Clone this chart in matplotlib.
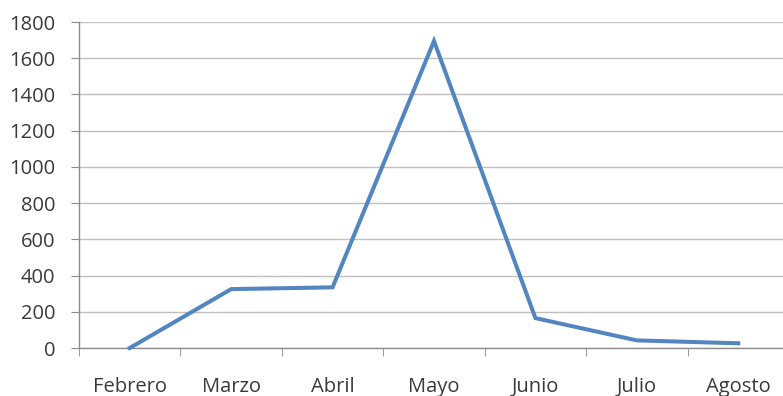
import matplotlib
matplotlib.use("Agg")
import matplotlib.pyplot as plt
import numpy as np

months = ["Febrero", "Marzo", "Abril", "Mayo", "Junio", "Julio", "Agosto"]
values = [0, 325, 335, 1695, 165, 42, 26]
yticks = [0, 200, 400, 600, 800, 1000, 1200, 1400, 1600, 1800]

plt.rcParams['font.family'] = ['Open Sans', 'DejaVu Sans']

W, H = 783, 396
fig = plt.figure(figsize=(W / 100, H / 100), dpi=100)
left, right, top, bottom = 79, 789, 22, 348
ax = fig.add_axes([left / W, (H - bottom) / H, (right - left) / W, (bottom - top) / H])

x = np.arange(len(months))
ax.plot(x, values, color="#5385C0", linewidth=2.9, solid_joinstyle="miter", clip_on=False, zorder=3)

ax.set_xlim(-0.5, len(months) - 0.5)
ax.set_ylim(0, 1800)
ax.set_yticks(yticks)
ax.set_yticklabels([str(v) for v in yticks])
ax.set_xticks(x)
ax.set_xticklabels(months)
ax.set_xticks(np.arange(-0.5, len(months) + 0.5, 1), minor=True)

ax.grid(axis="y", color="#C0C0C0", linewidth=1.0)
ax.set_axisbelow(True)
for s in ["top", "right"]:
    ax.spines[s].set_visible(False)
for s in ["left", "bottom"]:
    ax.spines[s].set_color("#8C8C8C")
    ax.spines[s].set_linewidth(1.0)

ax.tick_params(axis="y", which="major", length=6, color="#8C8C8C", pad=11,
               labelsize=14.5, labelcolor="#3A3A3A")
ax.tick_params(axis="x", which="major", length=0, pad=21, labelsize=14.5, labelcolor="#3A3A3A")
ax.tick_params(axis="x", which="minor", length=5.5, color="#8C8C8C")

fig.savefig("out.png", dpi=100, facecolor="white")
